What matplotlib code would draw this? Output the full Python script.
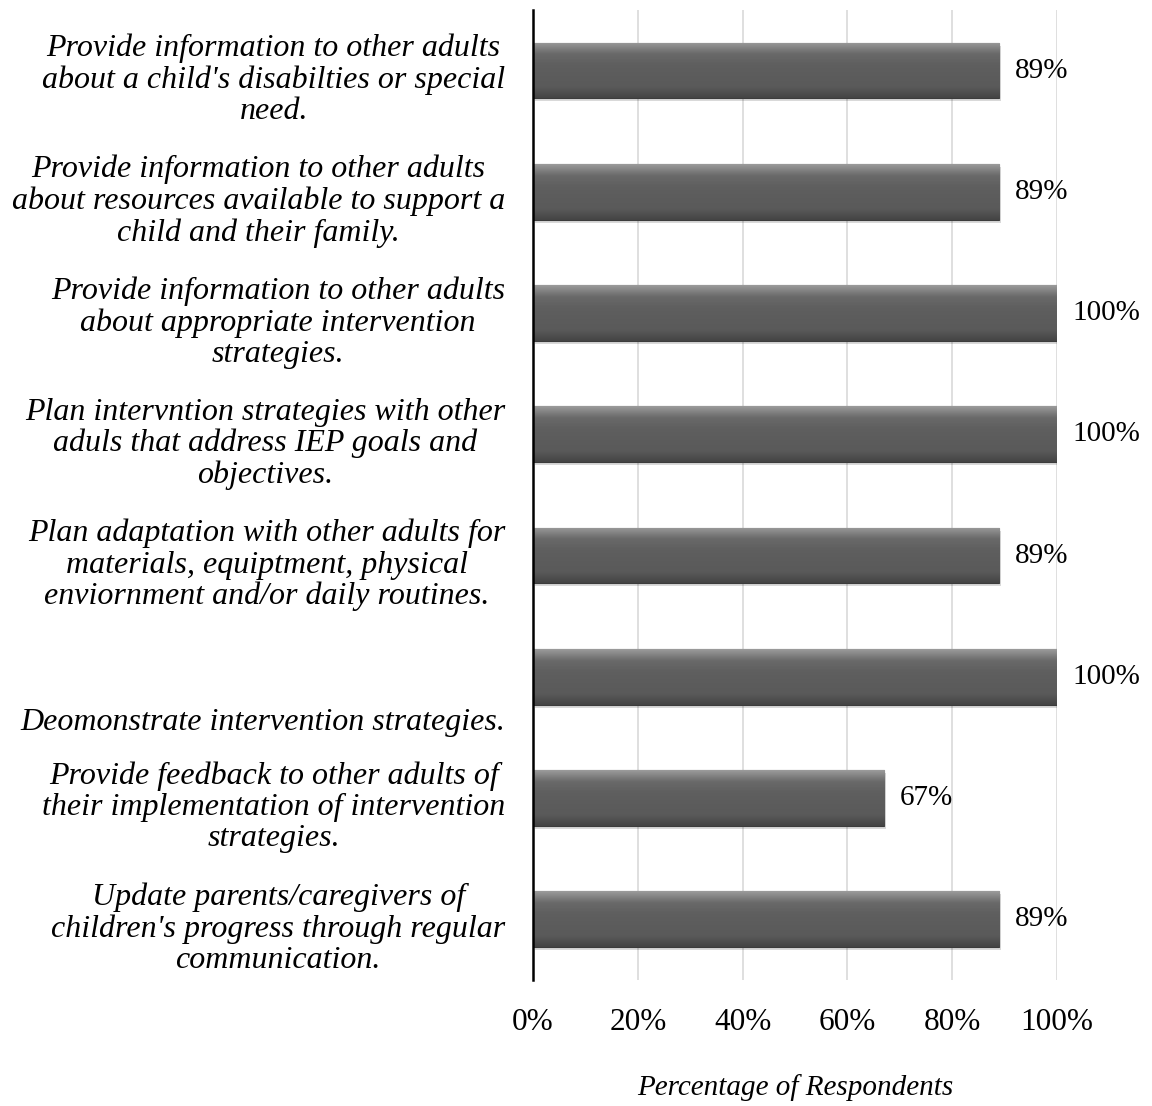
import numpy as np
import matplotlib.pyplot as plt
from matplotlib.colors import LinearSegmentedColormap
from matplotlib.transforms import ScaledTranslation

plt.rcParams['font.family'] = ['Liberation Serif', 'DejaVu Serif']

labels = [
    "Provide information to other adults\nabout a child's disabilties or special\nneed.",
    "Provide information to other adults\nabout resources available to support a\nchild and their family.",
    "Provide information to other adults\nabout appropriate intervention\nstrategies.",
    "Plan intervntion strategies with other\naduls that address IEP goals and\nobjectives.",
    "Plan adaptation with other adults for\nmaterials, equiptment, physical\nenviornment and/or daily routines.",
    "\n\nDeomonstrate intervention strategies.",
    "Provide feedback to other adults of\ntheir implementation of intervention\nstrategies.",
    "Update parents/caregivers of\nchildren's progress through regular\ncommunication.",
]
values = [0.89, 0.89, 1.00, 1.00, 0.89, 1.00, 0.67, 0.89]
ticks = [0, 0.2, 0.4, 0.6, 0.8, 1.0]
tick_labels = ['0%', '20%', '40%', '60%', '80%', '100%']

fig = plt.figure(figsize=(11.52, 11.06), dpi=100)
ax = fig.add_axes([0.4627, 0.114, 0.4548, 0.877])

y = np.arange(len(values))
bh = 0.46
# drop shadow
ax.barh(y + 0.025, values, height=bh, left=0.004, color='#000000', alpha=0.15, zorder=2)
bars = ax.barh(y, values, height=bh, color='#5e5e5e', edgecolor='#3c3c3c',
               linewidth=0.8, zorder=3)

# bevel-ish vertical gradient inside each bar
cmap = LinearSegmentedColormap.from_list('bev', ['#9a9a9a', '#6a6a6a', '#5f5f5f', '#5c5c5c', '#5a5a5a', '#444444'])
grad = np.linspace(0, 1, 100).reshape(-1, 1)
for b, v, yy in zip(bars, values, y):
    im = ax.imshow(grad, cmap=cmap, aspect='auto', zorder=3.5,
                   extent=[0, v, yy + bh / 2, yy - bh / 2])
    im.set_clip_path(b)

for v, yy in zip(values, y):
    ax.text(v + 0.03, yy, f'{round(v * 100):d}%', va='center', ha='left', fontsize=21)

ax.set_xlim(0, 1)
ax.set_ylim(len(values) - 0.5, -0.5)
ax.set_yticks(y)
ax.set_yticklabels(labels, fontsize=23, style='italic', multialignment='center', linespacing=1.1)
ax.set_xticks(ticks)
ax.set_xticklabels(tick_labels, fontsize=22.5)
ax.tick_params(axis='both', length=0)
ax.tick_params(axis='x', pad=20)
ax.tick_params(axis='y', pad=20)

# labels sit slightly below the bar centres; "Deomonstrate" a bit more
for i, lab in enumerate(ax.get_yticklabels()):
    dy = -7 / 72 if i == 5 else -3.5 / 72
    lab.set_transform(lab.get_transform() + ScaledTranslation(0, dy, fig.dpi_scale_trans))

ax.grid(axis='x', color='#d9d9d9', linewidth=1.2, zorder=0)
ax.set_axisbelow(True)
for s in ['top', 'right', 'bottom']:
    ax.spines[s].set_visible(False)
ax.spines['left'].set_linewidth(1.8)
ax.spines['left'].set_zorder(5)

ax.set_xlabel('Percentage of Respondents', fontsize=21, style='italic', labelpad=27)

fig.savefig('out.png', dpi=100)
